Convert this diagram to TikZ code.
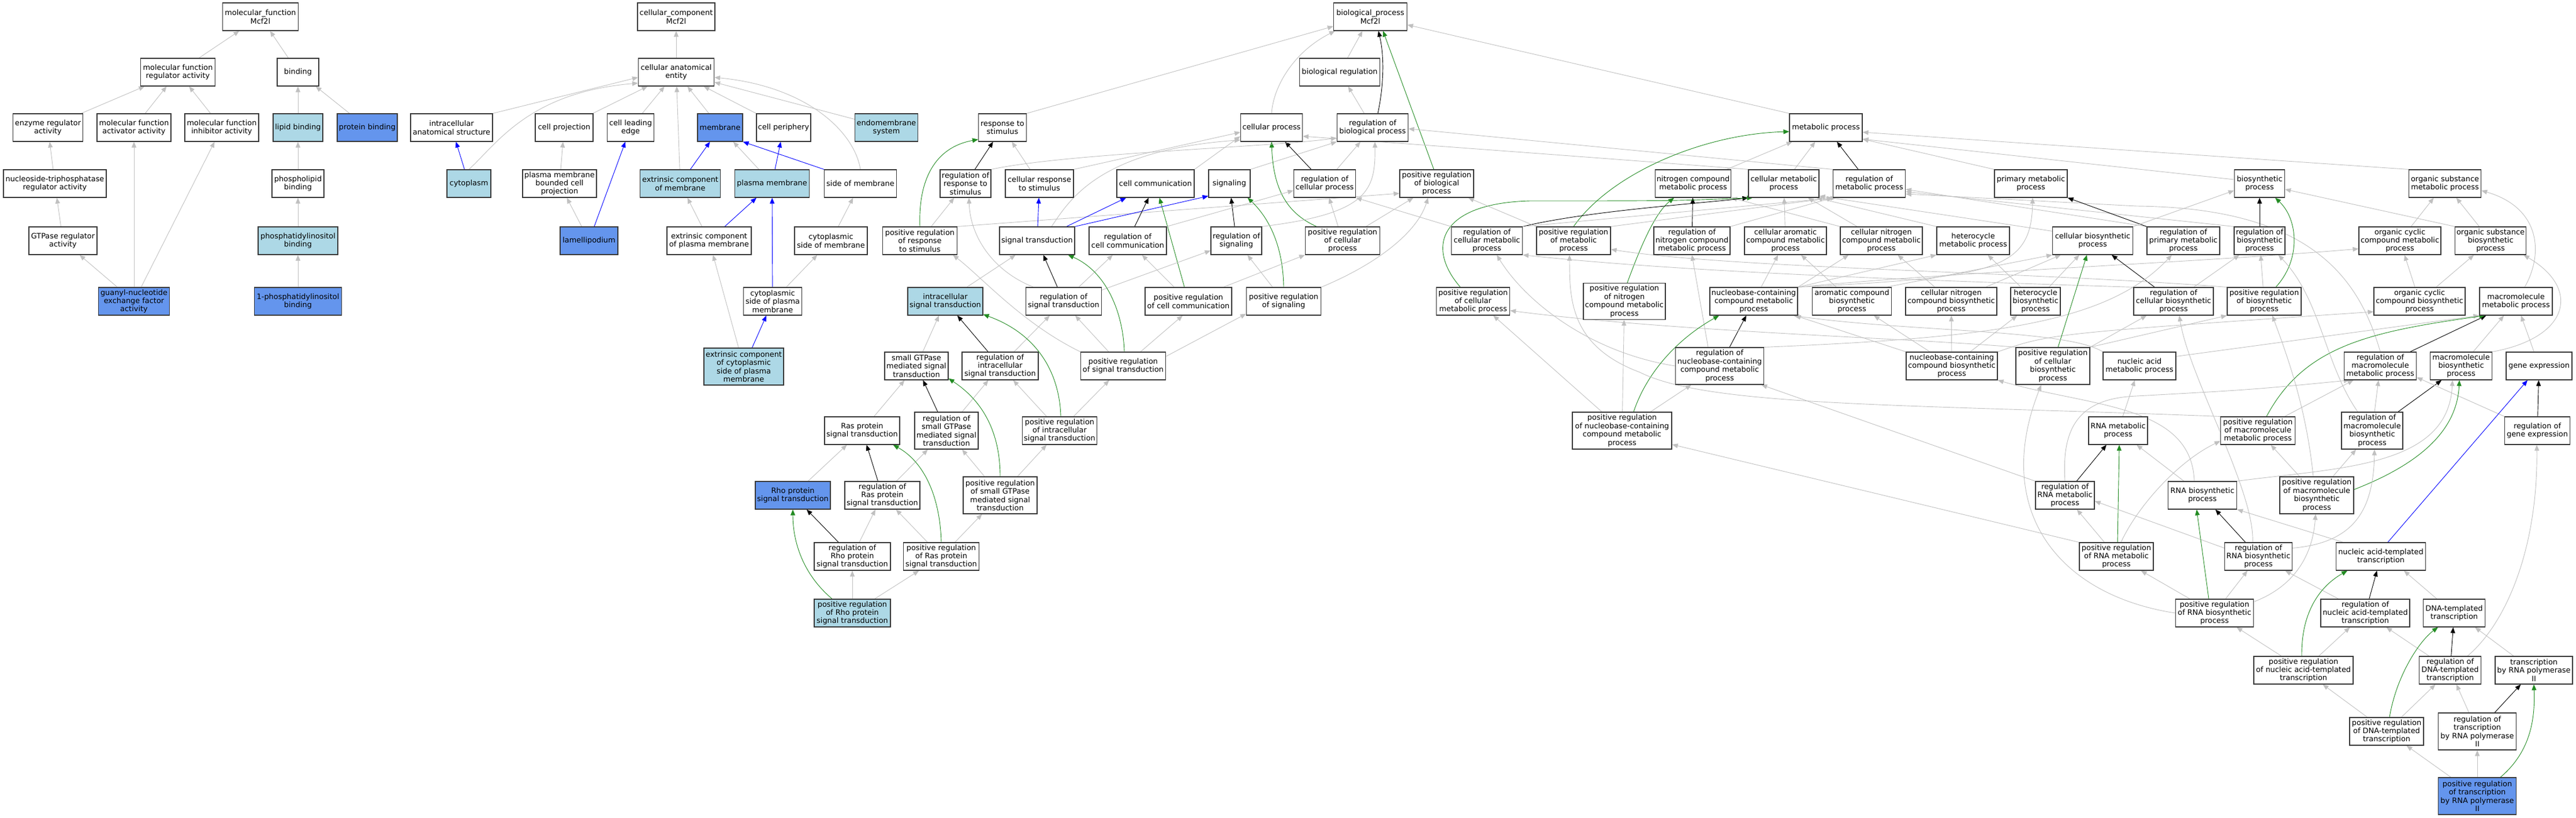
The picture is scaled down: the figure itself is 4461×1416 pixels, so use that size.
\documentclass[tikz,border=0pt]{standalone}
\usepackage{fontspec}
\setmainfont{DejaVu Sans}
\usetikzlibrary{arrows.meta}
\definecolor{lbc}{RGB}{173,216,230}
\definecolor{cbc}{RGB}{100,149,237}
\definecolor{eg}{RGB}{192,192,192}
\definecolor{gg}{RGB}{34,139,34}
\pgfdeclarelayer{bg}
\pgfsetlayers{bg,main}
\newcommand\gofont{\fontsize{12.9pt}{14.4pt}\selectfont}
\newcommand\edg[3]{\draw[#1] (#2) -- (#3);}
\tikzset{
  box/.style={draw=black!78, line width=1.15pt, fill=white, align=center, inner xsep=2pt, inner ysep=2pt, minimum height=48pt, font=\gofont, text=black},
  lb/.style={box, fill=lbc},
  cb/.style={box, fill=cbc},
  wd/.style={minimum width=#1pt},
  hf/.style={minimum height=64pt},
  isa/.style={draw=eg, line width=0.9pt, -{Triangle[length=10pt,width=8pt]}},
  reg/.style={isa, draw=black},
  preg/.style={isa, draw=gg},
  partof/.style={isa, draw=blue},
}
\begin{document}
\begin{tikzpicture}[x=1pt,y=-1pt]
\useasboundingbox (0,0) rectangle (4461,1416);
% ---------- molecular function
\node[box,wd=131] (mf) at (451,29) {molecular\_function\\Mcf2l};
\node[box,wd=129] (mfreg) at (308,125) {molecular function\\regulator activity};
\node[box,wd=72] (binding) at (516,125) {binding};
\node[box,wd=121] (enzreg) at (83,221) {enzyme regulator\\activity};
\node[box,wd=128] (mfact) at (232,221) {molecular function\\activator activity};
\node[box,wd=128] (mfinh) at (384,221) {molecular function\\inhibitor activity};
\node[lb,wd=86] (lipid) at (516,221) {lipid binding};
\node[cb,wd=104] (protb) at (636,221) {protein binding};
\node[box,wd=178] (ntpreg) at (95,318) {nucleoside-triphosphatase\\regulator activity};
\node[box,wd=90] (phosl) at (516,318) {phospholipid\\binding};
\node[box,wd=118] (gtpreg) at (109,417) {GTPase regulator\\activity};
\node[lb,wd=138] (pib) at (516,417) {phosphatidylinositol\\binding};
\node[cb,wd=123] (gef) at (232,522) {guanyl-nucleotide\\exchange factor\\activity};
\node[cb,wd=151] (pi1) at (516,522) {1-phosphatidylinositol\\binding};
% ---------- cellular component
\node[box,wd=134] (cc) at (1171,29) {cellular\_component\\Mcf2l};
\node[box,wd=131] (cae) at (1171,125) {cellular anatomical\\entity};
\node[box,wd=142] (ias) at (782,221) {intracellular\\anatomical structure};
\node[box,wd=100] (cproj) at (977,221) {cell projection};
\node[box,wd=81] (cle) at (1092,221) {cell leading\\edge};
\node[cb,wd=78] (memb) at (1247,221) {membrane};
\node[box,wd=94] (cper) at (1357,221) {cell periphery};
\node[lb,wd=109] (endo) at (1535,221) {endomembrane\\system};
\node[lb,wd=76] (cyto) at (812,318) {cytoplasm};
\node[box,wd=128] (pmbcp) at (969,318) {plasma membrane\\bounded cell\\projection};
\node[lb,wd=139] (ecm) at (1178,318) {extrinsic component\\of membrane};
\node[lb,wd=129] (pm) at (1337,318) {plasma membrane};
\node[box,wd=125] (som) at (1490,318) {side of membrane};
\node[cb,wd=100] (lam) at (1020,417) {lamellipodium};
\node[box,wd=146] (ecpm) at (1228,417) {extrinsic component\\of plasma membrane};
\node[box,wd=126] (csm) at (1439,417) {cytoplasmic\\side of membrane};
\node[box,wd=101] (cspm) at (1338,522) {cytoplasmic\\side of plasma\\membrane};
\node[lb,wd=138,hf] (ecspm) at (1288,635) {extrinsic component\\of cytoplasmic\\side of plasma\\membrane};
% ---------- biological process
\node[box,wd=127] (bp) at (2373,29) {biological\_process\\Mcf2l};
\node[box,wd=139] (breg) at (2320,125) {biological regulation};
\node[box,wd=83] (rts) at (1736,221) {response to\\stimulus};
\node[box,wd=107] (cp) at (2202,221) {cellular process};
\node[box,wd=123] (rbp) at (2377,221) {regulation of\\biological process};
\node[box,wd=126] (met) at (3162,221) {metabolic process};
\node[box,wd=88] (rrts) at (1672,318) {regulation of\\response to\\stimulus};
\node[box,wd=118] (crs) at (1800,318) {cellular response\\to stimulus};
\node[box,wd=134] (ccom) at (2001,318) {cell communication};
\node[box,wd=72] (sig) at (2129,318) {signaling};
\node[box,wd=107] (rcp) at (2294,318) {regulation of\\cellular process};
\node[box,wd=128] (prbp) at (2488,318) {positive regulation\\of biological\\process};
\node[box,wd=131] (ncmp) at (2932,318) {nitrogen compound\\metabolic process};
\node[box,wd=122] (cmp) at (3089,318) {cellular metabolic\\process};
\node[box,wd=125] (rmp) at (3237,318) {regulation of\\metabolic process};
\node[box,wd=126] (pmp) at (3517,318) {primary metabolic\\process};
\node[box,wd=87] (bsp) at (3913,318) {biosynthetic\\process};
\node[box,wd=125] (osmp) at (4234,318) {organic substance\\metabolic process};
\node[box,wd=129] (prrts) at (1593,417) {positive regulation\\of response\\to stimulus};
\node[box,wd=130] (st) at (1796,417) {signal transduction};
\node[box,wd=134] (rcc) at (1953,417) {regulation of\\cell communication};
\node[box,wd=88] (rsig) at (2141,417) {regulation of\\signaling};
\node[box,wd=129] (prcp) at (2325,417) {positive regulation\\of cellular\\process};
\node[box,wd=123] (rcmp) at (2575,417) {regulation of\\cellular metabolic\\process};
\node[box,wd=128] (prmp) at (2725,417) {positive regulation\\of metabolic\\process};
\node[box,wd=132] (rncmp) at (2930,417) {regulation of\\nitrogen compound\\metabolic process};
\node[box,wd=142] (cacmp) at (3092,417) {cellular aromatic\\compound metabolic\\process};
\node[box,wd=142] (cncmp) at (3258,417) {cellular nitrogen\\compound metabolic\\process};
\node[box,wd=126] (hmp) at (3417,417) {heterocycle\\metabolic process};
\node[box,wd=139] (cbp) at (3624,417) {cellular biosynthetic\\process};
\node[box,wd=126] (rpmp) at (3781,417) {regulation of\\primary metabolic\\process};
\node[box,wd=88] (rbsp) at (3913,417) {regulation of\\biosynthetic\\process};
\node[box,wd=142] (occmp) at (4156,417) {organic cyclic\\compound metabolic\\process};
\node[box,wd=123] (osbp) at (4313,417) {organic substance\\biosynthetic\\process};
\node[lb,wd=130] (ist) at (1637,522) {intracellular\\signal transduction};
\node[box,wd=131] (rst) at (1842,522) {regulation of\\signal transduction};
\node[box,wd=150] (prcc) at (2058,522) {positive regulation\\of cell communication};
\node[box,wd=129] (prsig) at (2223,522) {positive regulation\\of signaling};
\node[box,wd=127] (prcmp) at (2551,522) {positive regulation\\of cellular\\metabolic process};
\node[box,wd=142,minimum height=63pt] (prncmp) at (2813,522) {positive regulation\\of nitrogen\\compound metabolic\\process};
\node[box,wd=152] (nbcmp) at (3037,522) {nucleobase-containing\\compound metabolic\\process};
\node[box,wd=137] (acbp) at (3207,522) {aromatic compound\\biosynthetic\\process};
\node[box,wd=158] (cncbp) at (3379,522) {cellular nitrogen\\compound biosynthetic\\process};
\node[box,wd=86] (hbp) at (3525,522) {heterocycle\\biosynthetic\\process};
\node[box,wd=138] (rcbp) at (3764,522) {regulation of\\cellular biosynthetic\\process};
\node[box,wd=128] (prbsp) at (3921,522) {positive regulation\\of biosynthetic\\process};
\node[box,wd=158] (occbp) at (4190,522) {organic cyclic\\compound biosynthetic\\process};
\node[box,wd=126] (mmp) at (4357,522) {macromolecule\\metabolic process};
\node[box,wd=110] (sgtp) at (1587,634) {small GTPase\\mediated signal\\transduction};
\node[box,wd=132] (rist) at (1732,634) {regulation of\\intracellular\\signal transduction};
\node[box,wd=147] (prst) at (1945,634) {positive regulation\\of signal transduction};
\node[box,wd=153,hf] (rnbcmp) at (2978,634) {regulation of\\nucleobase-containing\\compound metabolic\\process};
\node[box,wd=158] (nbcbp) at (3380,634) {nucleobase-containing\\compound biosynthetic\\process};
\node[box,wd=128,hf] (prcbp) at (3555,634) {positive regulation\\of cellular\\biosynthetic\\process};
\node[box,wd=126] (namp) at (3705,634) {nucleic acid\\metabolic process};
\node[box,wd=125] (rmmp) at (4122,634) {regulation of\\macromolecule\\metabolic process};
\node[box,wd=107] (mbp) at (4262,634) {macromolecule\\biosynthetic\\process};
\node[box,wd=114] (ge) at (4397,634) {gene expression};
\node[box,wd=130] (ras) at (1493,746) {Ras protein\\signal transduction};
\node[box,wd=110,hf] (rsgtp) at (1639,746) {regulation of\\small GTPase\\mediated signal\\transduction};
\node[box,wd=129] (prist) at (1835,746) {positive regulation\\of intracellular\\signal transduction};
\node[box,wd=172,hf] (prnbcmp) at (2809,746) {positive regulation\\of nucleobase-containing\\compound metabolic\\process};
\node[box,wd=102] (rnamp) at (3668,746) {RNA metabolic\\process};
\node[box,wd=129] (prmmp) at (3910,746) {positive regulation\\of macromolecule\\metabolic process};
\node[box,wd=106,hf] (rmbp) at (4108,746) {regulation of\\macromolecule\\biosynthetic\\process};
\node[box,wd=113] (rge) at (4394,746) {regulation of\\gene expression};
\node[cb,wd=130] (rho) at (1373,858) {Rho protein\\signal transduction};
\node[box,wd=130] (rras) at (1528,858) {regulation of\\Ras protein\\signal transduction};
\node[box,wd=128,hf] (prsgtp) at (1732,858) {positive regulation\\of small GTPase\\mediated signal\\transduction};
\node[box,wd=102] (rrnamp) at (3576,858) {regulation of\\RNA metabolic\\process};
\node[box,wd=119] (rnabp) at (3814,858) {RNA biosynthetic\\process};
\node[box,wd=128,hf] (prmbp) at (4012,858) {positive regulation\\of macromolecule\\biosynthetic\\process};
\node[box,wd=132] (rrho) at (1476,964) {regulation of\\Rho protein\\signal transduction};
\node[box,wd=131] (pras) at (1630,964) {positive regulation\\of Ras protein\\signal transduction};
\node[box,wd=128] (prrnamp) at (3665,964) {positive regulation\\of RNA metabolic\\process};
\node[box,wd=117] (rrnabp) at (3911,964) {regulation of\\RNA biosynthetic\\process};
\node[box,wd=155] (nat) at (4123,964) {nucleic acid-templated\\transcription};
\node[lb,wd=132] (prrho) at (1476,1062) {positive regulation\\of Rho protein\\signal transduction};
\node[box,wd=135] (prrnabp) at (3835,1062) {positive regulation\\of RNA biosynthetic\\process};
\node[box,wd=154] (rnat) at (4096,1062) {regulation of\\nucleic acid-templated\\transcription};
\node[box,wd=107] (dtt) at (4250,1062) {DNA-templated\\transcription};
\node[box,wd=172] (prnat) at (3989,1161) {positive regulation\\of nucleic acid-templated\\transcription};
\node[box,wd=107] (rdtt) at (4243,1161) {regulation of\\DNA-templated\\transcription};
\node[box,wd=134] (trp2) at (4388,1161) {transcription\\by RNA polymerase\\II};
\node[box,wd=128] (prdtt) at (4133,1267) {positive regulation\\of DNA-templated\\transcription};
\node[box,wd=135,hf] (rtrp2) at (4290,1267) {regulation of\\transcription\\by RNA polymerase\\II};
\node[cb,wd=135,hf] (prtrp2) at (4290,1379) {positive regulation\\of transcription\\by RNA polymerase\\II};

\begin{pgfonlayer}{bg}
% ---- MF edges
\edg{isa}{mfreg}{mf}
\edg{isa}{binding}{mf}
\edg{isa}{enzreg}{mfreg}
\edg{isa}{mfact}{mfreg}
\edg{isa}{mfinh}{mfreg}
\edg{isa}{lipid}{binding}
\edg{isa}{protb}{binding}
\edg{isa}{ntpreg}{enzreg}
\edg{isa}{phosl}{lipid}
\edg{isa}{gtpreg}{ntpreg}
\edg{isa}{pib}{phosl}
\edg{isa}{gef}{gtpreg}
\edg{isa}{gef}{mfact}
\edg{isa}{gef}{mfinh}
\edg{isa}{pi1}{pib}
% ---- CC edges
\edg{isa}{cae}{cc}
\draw[isa] (ias.north east) -- ([yshift=-9pt]cae.west);
\draw[isa] (cyto.north) .. controls (860,250) and (915,160) .. ([yshift=-19pt]cae.west);
\edg{isa}{cproj}{cae}
\edg{isa}{cle}{cae}
\edg{isa}{ecm}{cae}
\edg{isa}{memb}{cae}
\edg{isa}{cper}{cae}
\edg{isa}{endo}{cae}
\draw[isa] (som.north) .. controls (1480,230) and (1400,150) .. ([yshift=-9pt]cae.east);
\edg{partof}{ecm}{memb}
\edg{isa}{pm}{memb}
\edg{partof}{pm}{cper}
\draw[partof] (som.north west) -- (memb.south east);
\edg{isa}{pmbcp}{cproj}
\edg{partof}{cyto}{ias}
\edg{isa}{lam}{pmbcp}
\edg{partof}{lam}{cle}
\edg{isa}{ecpm}{ecm}
\edg{partof}{ecpm}{pm}
\edg{isa}{csm}{som}
\edg{partof}{cspm}{pm}
\edg{isa}{cspm}{csm}
\edg{isa}{ecspm}{ecpm}
\edg{partof}{ecspm}{cspm}
% ---- BP top
\edg{isa}{breg}{bp}
\draw[isa] (cp.north) .. controls (2205,150) and (2240,90) .. ([xshift=3pt]bp.south west);
\draw[isa] (rts.north east) -- ([yshift=8pt]bp.south west);
\draw[isa] (met.north west) -- ([yshift=-14pt]bp.east);
\edg{isa}{rbp}{breg}
\draw[reg] ([xshift=9pt]rbp.north) .. controls (2396,150) and (2398,100) .. ([xshift=14pt]bp.south);
\draw[preg] ([xshift=-5pt]prbp.north) -- ([xshift=22pt]bp.south);
% ---- response / signalling
\edg{reg}{rrts}{rts}
\edg{isa}{crs}{rts}
\draw[preg] (prrts.north) .. controls (1590,310) and (1620,255) .. ([yshift=4pt]rts.south west);
\edg{isa}{prrts}{rrts}
\draw[isa] (prrts.north east) -- ([yshift=-17pt]prbp.west);
\draw[isa] (crs.north east) -- ([yshift=-8pt]cp.west);
\draw[isa] (ccom.north east) -- ([yshift=-15pt]cp.west);
\draw[isa] ([xshift=25pt]st.north) .. controls (1850,350) and (1900,260) .. ([yshift=3pt]cp.south west);
\edg{partof}{st}{crs}
\edg{partof}{st}{ccom}
\draw[partof] (st.north east) -- ([yshift=3pt]sig.south west);
\edg{reg}{rcc}{ccom}
\edg{preg}{prcc}{ccom}
\draw[isa] (sig.north east) -- (rbp.south west);
\edg{reg}{rsig}{sig}
\draw[preg] (prsig.north) .. controls (2222,430) and (2200,380) .. ([xshift=-5pt]sig.south east);
\edg{isa}{prsig}{rsig}
\draw[isa] (prsig.north east) .. controls (2390,455) and (2455,400) .. ([xshift=-15pt]prbp.south);
\edg{reg}{rcp}{cp}
\edg{isa}{rcp}{rbp}
\edg{isa}{prcp}{rcp}
\draw[preg] ([xshift=-45pt]prcp.north) .. controls (2230,370) and (2205,330) .. (cp.south);
\edg{isa}{prcp}{prbp}
\draw[isa] (rcc.north east) -- ([yshift=-12pt]rcp.west);
\draw[isa] (rsig.north east) .. controls (2370,370) and (2382,330) .. ([xshift=4pt]rbp.south);
\draw[isa] (rrts.north east) .. controls (1850,265) and (2200,255) .. ([yshift=-18pt]rbp.west);
\edg{isa}{ist}{st}
\edg{reg}{rst}{st}
\edg{isa}{rst}{rcc}
\draw[isa] ([xshift=-52pt]rst.north) .. controls (1720,470) and (1680,410) .. ([xshift=6pt]rrts.south);
\draw[isa] ([yshift=-5pt]rst.north east) -- ([yshift=-17pt]rsig.west);
\edg{isa}{prcc}{rcc}
\draw[isa] ([xshift=-15pt]prcc.north east) -- (prcp.south west);
\draw[preg] ([xshift=2pt]prst.north) .. controls (1945,540) and (1915,470) .. ([xshift=-12pt]st.south east);
\draw[isa] ([xshift=-25pt]prst.north) -- ([xshift=20pt]rst.south);
\draw[isa] ([xshift=30pt]prst.north) -- ([xshift=-10pt]prcc.south);
\draw[isa] ([yshift=-8pt]prst.north east) -- ([yshift=3pt]prsig.south west);
\draw[isa] (prst.north west) .. controls (1770,560) and (1700,480) .. ([xshift=-8pt]prrts.south east);
\edg{isa}{sgtp}{ist}
\edg{reg}{rist}{ist}
\edg{isa}{rist}{rst}
\draw[preg] ([xshift=2pt]prist.north) .. controls (1835,650) and (1800,580) .. ([yshift=2pt]ist.south east);
\edg{isa}{prist}{rist}
\edg{isa}{prist}{prst}
\edg{isa}{ras}{sgtp}
\edg{reg}{rsgtp}{sgtp}
\edg{isa}{rsgtp}{rist}
\draw[preg] (prsgtp.north) .. controls (1732,760) and (1710,700) .. ([yshift=3pt]sgtp.south east);
\edg{isa}{prsgtp}{rsgtp}
\edg{isa}{prsgtp}{prist}
\edg{isa}{rho}{ras}
\edg{reg}{rras}{ras}
\edg{isa}{rras}{rsgtp}
\draw[preg] (pras.north) .. controls (1628,860) and (1600,800) .. ([xshift=-12pt]ras.south east);
\edg{isa}{pras}{rras}
\edg{isa}{pras}{prsgtp}
\edg{reg}{rrho}{rho}
\edg{isa}{rrho}{rras}
\draw[preg] ([xshift=-35pt]prrho.north) .. controls (1385,990) and (1373,930) .. (rho.south);
\edg{isa}{prrho}{rrho}
\edg{isa}{prrho}{pras}
% ---- metabolism
\draw[isa] (cmp.north west) .. controls (2750,272) and (2450,250) .. ([yshift=-15pt]cp.east);
\draw[isa] (rmp.north west) -- ([yshift=-2pt]rbp.east);
\edg{isa}{ncmp}{met}
\edg{isa}{cmp}{met}
\edg{reg}{rmp}{met}
\draw[preg] (prmp.north) .. controls (2790,300) and (2950,232) .. ([yshift=-7pt]met.west);
\draw[isa] (pmp.north west) -- ([yshift=-20pt]met.east);
\draw[isa] ([yshift=7pt]bsp.west) -- ([yshift=-20pt]met.east);
\draw[isa] (osmp.north west) -- ([yshift=-8pt]met.east);
\edg{reg}{rncmp}{ncmp}
\draw[preg] ([xshift=5pt]prncmp.north) .. controls (2840,430) and (2865,370) .. ([xshift=-33pt]ncmp.south);
\draw[isa] (cncmp.north west) -- (ncmp.south east);
\edg{isa}{cacmp}{cmp}
\edg{isa}{cncmp}{cmp}
\draw[isa] (hmp.north west) -- ([xshift=-5pt]cmp.south east);
\draw[isa] ([yshift=-8pt]cbp.north west) -- ([yshift=3pt]cmp.south east);
\draw[reg] (rcmp.north east) .. controls (2750,365) and (2950,352) .. (cmp.south west);
\draw[preg] ([xshift=-22pt]prcmp.north) .. controls (2470,430) and (2490,352) .. (2650,348) .. controls (2900,348) .. ([xshift=8pt]cmp.south west);
\draw[isa] (prmp.north east) -- (rmp.south west);
\draw[isa] (rncmp.north east) -- (rmp.south west);
\draw[isa] (rcmp.north east) -- ([xshift=6pt]rmp.south west);
\draw[isa] (rcmp.north west) -- (rcp.south east);
\draw[isa] (prmp.north west) -- ([xshift=-10pt]prbp.south east);
\draw[isa] (rpmp.north west) -- ([yshift=-10pt]rmp.east);
\draw[isa] (rbsp.north west) -- ([yshift=-14pt]rmp.east);
\draw[isa] (rmmp.north) .. controls (4085,480) and (4000,360) .. (3700,357) -- ([yshift=-18pt]rmp.east);
\draw[reg] (rpmp.north west) -- (pmp.south east);
\edg{reg}{rbsp}{bsp}
\draw[isa] (cbp.north east) -- ([yshift=-12pt]bsp.west);
\draw[isa] (osbp.north west) -- ([yshift=-10pt]bsp.east);
\edg{isa}{occmp}{osmp}
\edg{isa}{osbp}{osmp}
\draw[isa] ([xshift=15pt]mmp.north) .. controls (4405,440) and (4400,360) .. ([yshift=-12pt]osmp.east);
\edg{isa}{nbcmp}{cacmp}
\draw[isa] (nbcmp.north east) -- ([xshift=15pt]cncmp.south west);
\draw[isa] (nbcmp.north east) -- (hmp.south west);
\draw[isa] (nbcmp.north east) .. controls (3400,470) and (3800,455) .. ([yshift=-14pt]occmp.west);
\draw[isa] (nbcmp.north east) .. controls (3450,480) and (3518,470) .. ([xshift=3pt]pmp.south);
\edg{isa}{acbp}{cacmp}
\draw[isa] ([xshift=-10pt]acbp.north east) -- (cbp.south west);
\edg{isa}{cncbp}{cncmp}
\draw[isa] ([xshift=-20pt]cncbp.north east) -- ([xshift=15pt]cbp.south west);
\edg{isa}{hbp}{hmp}
\edg{isa}{hbp}{cbp}
\edg{reg}{rcbp}{cbp}
\draw[isa] (rcbp.north west) .. controls (3300,485) and (2900,470) .. (rcmp.south east);
\edg{isa}{rcbp}{rbsp}
\draw[preg] ([xshift=20pt]prbsp.north) .. controls (3985,450) and (3980,380) .. ([xshift=27pt]bsp.south);
\edg{isa}{prbsp}{rbsp}
\draw[isa] (prbsp.north west) .. controls (3500,470) and (3000,465) .. ([yshift=-15pt]prmp.east);
\edg{isa}{occbp}{occmp}
\edg{isa}{occbp}{osbp}
\edg{reg}{rnbcmp}{nbcmp}
\draw[isa] ([xshift=-20pt]rnbcmp.north) -- (rncmp.south);
\draw[isa] (rnbcmp.west) .. controls (2750,610) and (2640,520) .. ([xshift=17pt]rcmp.south);
\draw[isa] (rnbcmp.north east) .. controls (3450,585) and (3650,560) .. ([xshift=-20pt]rpmp.south);
\edg{isa}{nbcbp}{acbp}
\edg{isa}{nbcbp}{cncbp}
\edg{isa}{nbcbp}{hbp}
\draw[isa] (nbcbp.north west) -- ([xshift=-5pt]nbcmp.south east);
\draw[isa] (nbcbp.north east) .. controls (3550,578) .. ([yshift=-18pt]occbp.west);
\draw[preg] ([xshift=9pt]prcbp.north) -- ([xshift=-10pt]cbp.south);
\draw[isa] (prcbp.north east) -- ([xshift=23pt]rcbp.south west);
\draw[isa] (prcbp.north west) .. controls (3300,585) and (2900,575) .. ([yshift=-16pt]prcmp.east);
\draw[isa] (prcbp.north east) -- (prbsp.south west);
\draw[isa] (namp.north west) .. controls (3580,570) and (3300,575) .. ([xshift=-8pt]nbcmp.south east);
\draw[isa] ([yshift=-8pt]namp.north east) -- (mmp.south west);
\edg{reg}{rmmp}{mmp}
\edg{isa}{mbp}{mmp}
\draw[isa] (mbp.north east) .. controls (4450,585) and (4470,500) .. ([xshift=-5pt]osbp.south east);
\edg{isa}{ge}{mmp}
\edg{isa}{prnbcmp}{rnbcmp}
\draw[preg] ([xshift=20pt]prnbcmp.north) .. controls (2850,650) and (2900,590) .. ([xshift=-60pt]nbcmp.south);
\draw[isa] ([xshift=-35pt]prnbcmp.north) -- ([xshift=35pt]prcmp.south);
\edg{isa}{prnbcmp}{prncmp}
\edg{isa}{rnamp}{namp}
\draw[preg] ([xshift=15pt]prmmp.north) .. controls (3990,600) and (4100,575) .. ([xshift=10pt]mmp.south west);
\edg{isa}{prmmp}{rmmp}
\draw[isa] (prmmp.north west) .. controls (3300,700) and (2960,705) .. (2840,645) .. controls (2720,600) and (2718,520) .. ([xshift=-7pt]prmp.south);
\edg{reg}{rmbp}{mbp}
\edg{isa}{rmbp}{rmmp}
\draw[isa] ([xshift=-25pt]rmbp.north) .. controls (4025,630) and (4020,520) .. ([xshift=-12pt]rbsp.south east);
\edg{reg}{rge}{ge}
\draw[isa] (rge.north west) -- ([yshift=5pt]rmmp.south east);
\edg{reg}{rrnamp}{rnamp}
\draw[isa] (rrnamp.north west) -- ([xshift=-5pt]rnbcmp.south east);
\draw[isa] (rrnamp.north) .. controls (3570,740) and (3600,690) .. (3700,686) .. controls (3900,675) .. ([xshift=10pt]rmmp.south west);
\edg{isa}{rnabp}{rnamp}
\draw[isa] ([xshift=-14pt]rnabp.north) .. controls (3795,700) and (3620,705) .. (nbcbp.south east);
\draw[isa] (rnabp.north east) .. controls (4050,810) and (4240,810) .. ([xshift=-15pt]mbp.south);
\draw[preg] ([yshift=10pt]prmbp.east) .. controls (4200,800) and (4255,740) .. ([xshift=-3pt]mbp.south);
\edg{isa}{prmbp}{rmbp}
\edg{isa}{prmbp}{prmmp}
\draw[isa] ([xshift=-6pt]prmbp.north) .. controls (3995,720) and (3970,640) .. ([xshift=14pt]prbsp.south);
\draw[preg] ([xshift=2pt]prrnamp.north) -- ([xshift=2pt]rnamp.south);
\edg{isa}{prrnamp}{rrnamp}
\draw[isa] (prrnamp.north west) -- ([yshift=-24pt]prnbcmp.east);
\draw[isa] ([xshift=8pt]prrnamp.north) .. controls (3700,880) and (3770,800) .. ([yshift=-18pt]prmmp.west);
\edg{reg}{rrnabp}{rnabp}
\draw[isa] ([yshift=-10pt]rrnabp.north east) .. controls (4080,940) and (4110,880) .. ([xshift=4pt]rmbp.south);
\draw[isa] ([yshift=-10pt]rrnabp.north west) -- ([yshift=-10pt]rrnamp.east);
\draw[isa] ([xshift=-10pt]rrnabp.north) .. controls (3905,850) and (3790,650) .. ([xshift=10pt]rcbp.south);
\draw[partof] ([xshift=12pt]nat.north) -- ([xshift=-20pt]ge.south);
\draw[isa] ([xshift=-65pt]nat.north) -- (rnabp.south east);
\draw[preg] ([xshift=-10pt]prrnabp.north) -- ([xshift=-10pt]rnabp.south);
\edg{isa}{prrnabp}{rrnabp}
\draw[isa] ([yshift=-5pt]prrnabp.north east) .. controls (3975,1015) and (4005,960) .. ([xshift=-2pt]prmbp.south);
\edg{isa}{prrnabp}{prrnamp}
\draw[isa] (prrnabp.west) .. controls (3560,1030) and (3450,880) .. ([xshift=-20pt]prcbp.south);
\edg{reg}{rnat}{nat}
\edg{isa}{rnat}{rrnabp}
\draw[isa] ([xshift=-30pt]dtt.north) -- ([xshift=40pt]nat.south);
\draw[preg] ([xshift=-3pt]prnat.north) .. controls (3985,1070) and (4010,1020) .. ([xshift=-58pt]nat.south);
\edg{isa}{prnat}{prrnabp}
\edg{isa}{prnat}{rnat}
\edg{reg}{rdtt}{dtt}
\edg{isa}{rdtt}{rnat}
\draw[isa] ([xshift=30pt]rdtt.north) .. controls (4340,1080) and (4395,950) .. ([xshift=-1pt]rge.south);
\draw[isa] ([xshift=-35pt]trp2.north) -- ([xshift=36pt]dtt.south);
\draw[preg] ([xshift=5pt]prdtt.north) .. controls (4150,1170) and (4190,1110) .. ([xshift=-28pt]dtt.south);
\edg{isa}{prdtt}{prnat}
\edg{isa}{prdtt}{rdtt}
\edg{reg}{rtrp2}{trp2}
\edg{isa}{rtrp2}{rdtt}
\edg{isa}{prtrp2}{prdtt}
\edg{isa}{prtrp2}{rtrp2}
\draw[preg] ([xshift=40pt]prtrp2.north) .. controls (4385,1300) and (4390,1240) .. (trp2.south);
\end{pgfonlayer}
\end{tikzpicture}
\end{document}
